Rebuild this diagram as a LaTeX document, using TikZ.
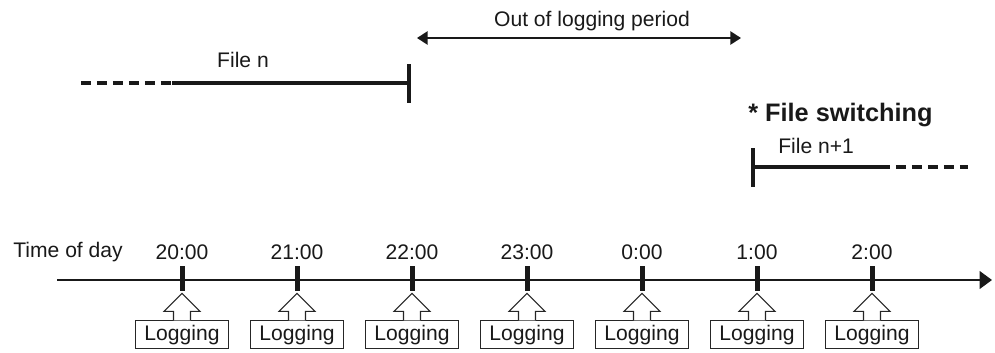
\documentclass[tikz,border=0pt]{standalone}
\usepackage{fontspec}
\setmainfont{Liberation Sans}
\usetikzlibrary{positioning, arrows.meta, calc}

\begin{document}
\begin{tikzpicture}[
    x=0.02cm, y=-0.02cm,
    lbl/.style={font=\fontsize{12}{14}\selectfont, text=black!90, inner sep=0pt},
    boldlbl/.style={font=\fontsize{14.4}{16}\selectfont\bfseries, text=black!90, inner sep=0pt},
    tickmark/.style={
      rectangle, fill=black!90, inner sep=0pt,
      minimum width=0.1cm, minimum height=0.5cm,
    },
    logbox/.style={
      rectangle, draw=black!85, line width=0.6pt,
      font=\fontsize{12}{14}\selectfont, text=black!90,
      minimum width=1.86cm, minimum height=0.56cm, inner sep=0pt,
    },
    hollow/.style={draw=black!85, line width=0.6pt, fill=white, line join=miter},
    axis/.style={-{Triangle[length=7pt,width=10pt]}, line width=1.1pt, black!90},
    span/.style={{Triangle[length=6pt,width=7.5pt]}-{Triangle[length=6pt,width=7.5pt]}, line width=1pt, black!90},
    fileline/.style={line width=2.6pt, black!90},
    filedash/.style={line width=2.6pt, black!90, dash pattern=on 5.7pt off 3.4pt},
]
\useasboundingbox (0,0) rectangle (995,352);

% Time axis
\coordinate (axstart) at (57,280);
\coordinate (axend) at (992,280);
\draw[axis] (axstart) -- (axend);
\node[lbl, anchor=west] (tod) at (13,252) {Time of day};

% Hour ticks with logging boxes
\foreach \x/\hr [count=\i] in {182/20:00, 297/21:00, 412/22:00, 527/23:00, 642/0:00, 757/1:00, 872/2:00} {
  \node[tickmark] (tk\i) at (\x,278.5) {};
  \node[lbl, above=0.12cm of tk\i] (hr\i) {\hr};
  \node[logbox, below=0.58cm of tk\i] (lb\i) {Logging};
  \draw[hollow] ($(lb\i.north)+(-8.5,0)$) -- ++(0,-9) -- ++(-9.5,0)
    -- ($(tk\i.south)+(0,2)$) -- ($(lb\i.north)+(18,-9)$) -- ++(-9.5,0) -- ++(0,9);
}

% File n
\coordinate (fnA) at (81,83);
\coordinate (fnB) at (172,83);
\coordinate (fnC) at (409,83);
\draw[filedash] (fnA) -- (fnB);
\draw[fileline] (fnB) -- (fnC);
\draw[fileline] ($(fnC)+(0,-19)$) -- ($(fnC)+(0,20)$);
\node[lbl] (fn) at (243,60) {File n};

% Out of logging period
\coordinate (outA) at (417,38);
\coordinate (outB) at (741,38);
\draw[span] (outA) -- (outB);
\node[lbl] (outlbl) at (592,21) {Out of logging period};

% File switching / File n+1
\node[boldlbl, anchor=west] (switch) at (748,115) {* File switching};
\coordinate (fmA) at (753,167);
\coordinate (fmB) at (880,167);
\coordinate (fmC) at (968,167);
\draw[fileline] (fmA) -- (fmB);
\draw[filedash] (fmB) -- (fmC);
\draw[fileline] ($(fmA)+(0,-19)$) -- ($(fmA)+(0,20)$);
\node[lbl, anchor=west] (fm) at (778,146) {File n+1};
\end{tikzpicture}
\end{document}
